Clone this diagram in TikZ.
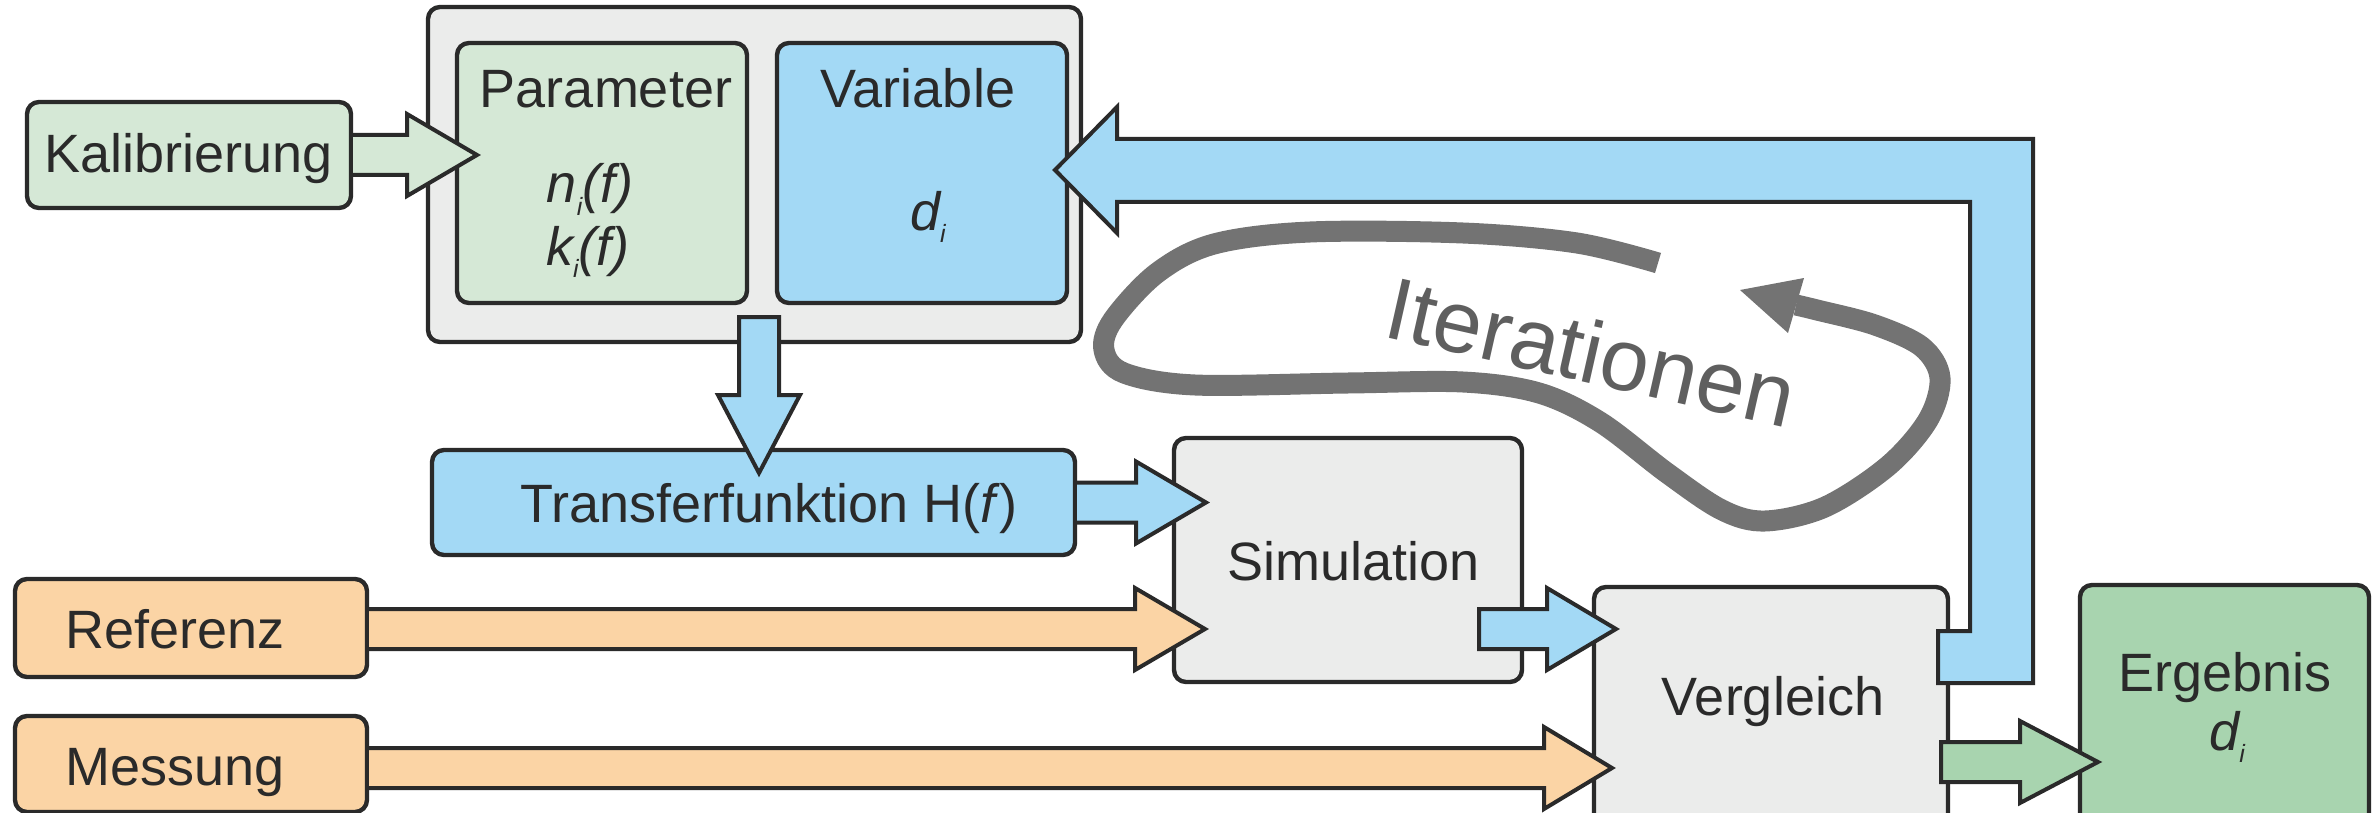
\documentclass[tikz,border=0pt]{standalone}
\usepackage{fontspec}
\setmainfont{Liberation Sans}
\usetikzlibrary{calc}
\definecolor{lineC}{HTML}{2A2A2A}
\definecolor{grayF}{HTML}{EBECEB}
\definecolor{greenL}{HTML}{D5E8D6}
\definecolor{blueF}{HTML}{A3D9F5}
\definecolor{orangeF}{HTML}{FBD4A5}
\definecolor{greenD}{HTML}{A8D4AF}
\definecolor{curveC}{HTML}{737373}
\definecolor{iterC}{HTML}{5F5F5F}
\newcommand{\mysubi}{\raisebox{-6pt}{\fontsize{12.5}{12.5}\selectfont\itshape i}}
% right-pointing block arrow: start, tip, colour, head length, closing
\newcommand{\barrowR}[5]{%
  \filldraw[arrowline, fill=#3] ($(#1)+(0,-20)$) -- ($(#2)+(-#4,-20)$) -- ($(#2)+(-#4,-41)$) -- (#2)
    -- ($(#2)+(-#4,41)$) -- ($(#2)+(-#4,20)$) -- ($(#1)+(0,20)$) #5;}
\begin{document}
\begin{tikzpicture}[x=0.5pt,y=-0.5pt,
  box/.style={draw=lineC, line width=2.2pt, rounded corners=6pt, inner sep=0pt},
  arrowline/.style={draw=lineC, line width=2pt, line join=miter},
  lbl/.style={font=\fontsize{27}{32}\selectfont, text=lineC, inner sep=0pt, anchor=base},
  curve/.style={draw=curveC, line width=10.5pt, line cap=butt, line join=round}]
\useasboundingbox (0,0) rectangle (2379,813);

% boxes
\node[box, fill=grayF, minimum width=326.5pt, minimum height=167.5pt] (outer) at (754.5,174.5) {};
\node[box, fill=greenL, minimum width=145pt, minimum height=130pt] (par) at (602,173) {};
\node[box, fill=blueF, minimum width=145pt, minimum height=130pt] (var) at (922,173) {};
\node[box, fill=greenL, minimum width=162pt, minimum height=53pt] (kal) at (189,155) {};
\node[box, fill=blueF, minimum width=321.5pt, minimum height=52.5pt] (tr) at (753.5,502.5) {};
\node[box, fill=orangeF, minimum width=176pt, minimum height=49pt] (ref) at (191,628) {};
\node[box, fill=orangeF, minimum width=176pt, minimum height=48pt] (mes) at (191,764) {};
\node[box, fill=grayF, minimum width=174pt, minimum height=122pt] (sim) at (1348,560) {};
\node[box, fill=grayF, minimum width=177pt, minimum height=121.5pt] (vgl) at (1771,708.5) {};
\node[box, fill=greenD, minimum width=144.5pt, minimum height=122.5pt] (erg) at (2224.5,707.5) {};

% labels
\node[lbl] (kalT) at (189,173) {Kalibrierung};
\node[lbl] (parT) at (606,108) {Parameter};
\node[lbl] (varT) at (918,108) {Variable};
\node[lbl] (nT) at (590,203) {\itshape n\mysubi(f)};
\node[lbl] (kT) at (588,265) {\itshape k\mysubi(f)};
\node[lbl] (dT) at (928,230) {\itshape d\mysubi};
\node[lbl] (trT) at (769,522) {Transferfunktion H(\textit{f})};
\node[lbl] (refT) at (175,648) {Referenz};
\node[lbl] (mesT) at (175,785) {Messung};
\node[lbl] (simT) at (1354,580) {Simulation};
\node[lbl] (vglT) at (1773,715) {Vergleich};
\node[lbl] (ergT) at (2225,691) {Ergebnis};
\node[lbl] (erdT) at (2227,750) {\itshape d\mysubi};

% arrow end points
\coordinate (t1) at (477,155);
\coordinate (t2) at (1206,502.5);
\coordinate (t3) at (1205,629);
\coordinate (t4) at (1612,768);
\coordinate (t5) at (1616,629);
\coordinate (t6) at (2098,762);
\coordinate (s5) at ($(sim.east |- t5)+(-45,0)$);
\coordinate (s6) at ($(vgl.east |- t6)+(-9,0)$);
\coordinate (dtop) at (759,317);
\coordinate (dtip) at (759,473);
\coordinate (fbtip) at (1055,170);
\coordinate (fbs) at (1938,631);

% block arrows
\barrowR{kal.east |- t1}{t1}{greenL}{70}{}
\barrowR{tr.east |- t2}{t2}{blueF}{70}{}
\barrowR{ref.east |- t3}{t3}{orangeF}{70}{}
\barrowR{mes.east |- t4}{t4}{orangeF}{68}{}
\barrowR{s5}{t5}{blueF}{69}{-- cycle}
\barrowR{s6}{t6}{greenD}{78}{-- cycle}
\filldraw[arrowline, fill=blueF] ($(dtop)+(-20,0)$) -- ($(dtip)+(-20,-78)$) -- ($(dtip)+(-41,-78)$) -- (dtip)
  -- ($(dtip)+(41,-78)$) -- ($(dtip)+(20,-78)$) -- ($(dtop)+(20,0)$) -- cycle;
\filldraw[arrowline, fill=blueF] (fbs) -- ($(fbs)+(32,0)$) -- ($(fbs)+(32,-429)$) -- ($(fbtip)+(62,32)$)
  -- ($(fbtip)+(62,63)$) -- (fbtip) -- ($(fbtip)+(62,-63)$) -- ($(fbtip)+(62,-31)$)
  -- ($(fbs)+(95,-492)$) -- ($(fbs)+(95,52)$) -- ($(fbs)+(0,52)$) -- cycle;

% iterations loop
\draw[curve] plot[smooth, tension=0.55] coordinates {(1658,263) (1577,243) (1463,233) (1310,232)
  (1214,244) (1157,273) (1113,320) (1104,350) (1124,373) (1195,385) (1348,383) (1463,382)
  (1539,393) (1600,422) (1667,473) (1722,510) (1765,521) (1825,507) (1888,466) (1928,420)
  (1940,378) (1922,347) (1875,325) (1817,310) (1796,305)};
\fill[curveC] (1740,290) -- (1804,278) -- (1788,333) -- cycle;
\node[font=\fontsize{44}{50}\selectfont, text=iterC, inner sep=0pt, anchor=base, rotate=-12.76] (iter) at (1584,382) {Iterationen};
\end{tikzpicture}
\end{document}
